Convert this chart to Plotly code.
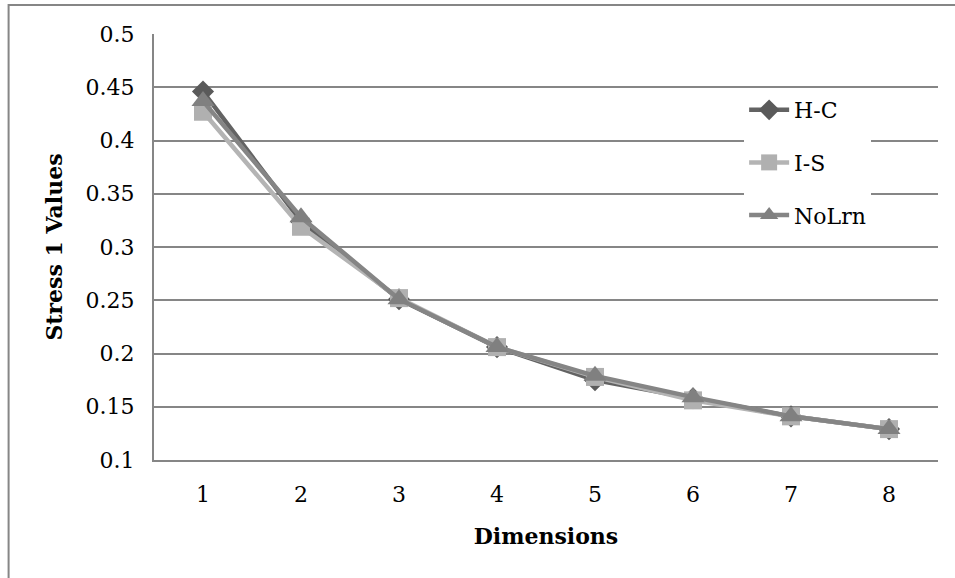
import plotly.graph_objects as go

dimensions = [1, 2, 3, 4, 5, 6, 7, 8]
hc = [0.446, 0.324, 0.251, 0.206, 0.175, 0.158, 0.141, 0.129]
is_ = [0.427, 0.319, 0.252, 0.206, 0.178, 0.156, 0.141, 0.129]
nolrn = [0.437, 0.328, 0.251, 0.206, 0.179, 0.159, 0.141, 0.129]
yticks = [0.1, 0.15, 0.2, 0.25, 0.3, 0.35, 0.4, 0.45, 0.5]
ytext = ["0.1", "0.15", "0.2", "0.25", "0.3", "0.35", "0.4", "0.45", "0.5"]

FONT = "DejaVu Serif"
FS = 22
fig = go.Figure()
fig.add_trace(go.Scatter(x=dimensions, y=hc, name="H-C", mode="lines+markers",
                         legendgroup="a",
                         line=dict(color="#636363", width=4.5),
                         marker=dict(symbol="diamond", size=17, color="#5a5a5a")))
fig.add_trace(go.Scatter(x=dimensions, y=is_, name="I-S", mode="lines+markers",
                         legendgroup="b",
                         line=dict(color="#b4b4b4", width=4.5),
                         marker=dict(symbol="square", size=18, color="#b0b0b0")))
fig.add_trace(go.Scatter(x=dimensions, y=nolrn, name="NoLrn", mode="lines+markers",
                         legendgroup="c",
                         line=dict(color="#858585", width=4.5),
                         marker=dict(symbol="triangle-up", size=20, color="#808080")))

L, R, T, B = 153.5, 17, 34, 118
W, H = 955, 578
pw, ph = W - L - R, H - T - B

def px_x(p):
    return (p - L) / pw

def px_y(p):
    return (H - B - p) / ph

fig.update_layout(
    width=W, height=H,
    margin=dict(l=L, r=R, t=T, b=B, pad=0),
    paper_bgcolor="white", plot_bgcolor="white",
    font=dict(family=FONT, size=FS, color="black"),
    showlegend=True,
    legend=dict(x=px_x(744), y=px_y(89), xanchor="left", yanchor="top",
                bgcolor="white", font=dict(family=FONT, size=FS, color="black"),
                tracegroupgap=21, traceorder="grouped", itemwidth=40),
    xaxis=dict(range=[0.5, 8.5], tickvals=dimensions, ticktext=[str(d) for d in dimensions],
               showgrid=False, zeroline=False, showline=True, linecolor="#868686", linewidth=2,
               ticks="", ticklabelstandoff=14, tickfont=dict(family=FONT, size=FS),
               title=dict(text="<b>Dimensions</b>", font=dict(family=FONT, size=FS), standoff=22)),
    yaxis=dict(range=[0.1, 0.5], tickvals=yticks, ticktext=ytext,
               showgrid=True, gridcolor="#868686", gridwidth=2, zeroline=False,
               showline=True, linecolor="#868686", linewidth=2, ticks="",
               ticklabelstandoff=13,
               tickfont=dict(family=FONT, size=FS),
               title=dict(text="<b>Stress 1 Values</b>", font=dict(family=FONT, size=FS), standoff=17)),
    shapes=[dict(type="rect", xref="paper", yref="paper",
                 x0=px_x(8), x1=px_x(1000), y0=px_y(640), y1=px_y(5),
                 line=dict(color="#868686", width=2), fillcolor="rgba(0,0,0,0)", layer="below")],
)

fig.write_html("out.html")
